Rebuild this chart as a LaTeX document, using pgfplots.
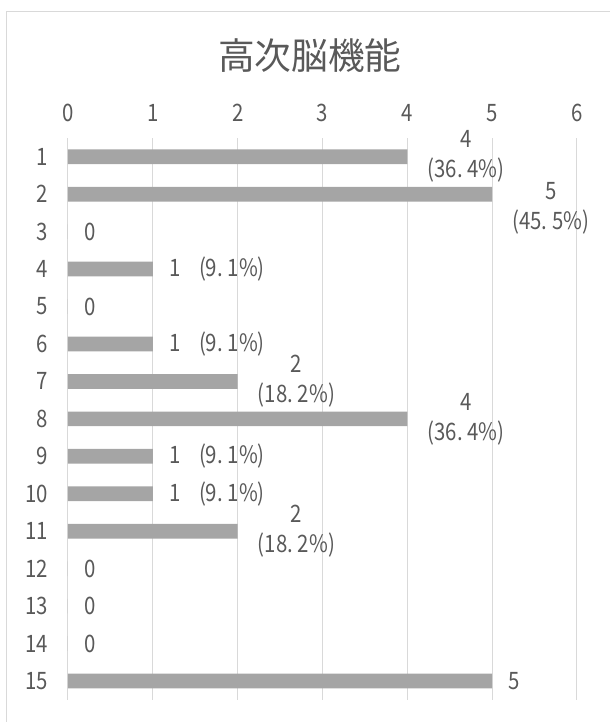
\documentclass[border=0pt]{standalone}
\usepackage{fontspec}
\setmainfont{Noto Sans CJK JP}
\newfontfamily\numfont[FakeStretch=0.85]{Noto Sans CJK JP}
\usepackage{pgfplots}
\pgfplotsset{compat=1.18}
\definecolor{txt}{HTML}{595959}
\definecolor{barc}{HTML}{A5A5A5}
\definecolor{gridc}{HTML}{D9D9D9}
\newcommand\pd{.\hspace{0.2em}}
\newcommand\La{4\\(36\pd4\%)}
\newcommand\Lb{5\\(45\pd5\%)}
\newcommand\Lc{2\\(18\pd2\%)}
\newcommand\Ld{1\hspace{14pt}(9\pd1\%)}
\newcommand\Le{0}
\newcommand\Lf{5}
\begin{document}
\begin{tikzpicture}
\useasboundingbox (-51pt,-438pt) rectangle (406.5pt,103.5pt);
\draw[gridc, line width=0.75pt] (-45.75pt,-445pt) -- (-45.75pt,95.25pt) -- (415pt,95.25pt);
\node[text=txt, font=\fontsize{27.5}{30}\selectfont] at (181.5pt,61.5pt) {高次脳機能};
\begin{axis}[
  at={(0pt,0pt)}, anchor=north west,
  scale only axis, width=381.75pt, height=421.3pt,
  xmin=0, xmax=6, ymin=0.5, ymax=15.5,
  xtick={0,1,2,3,4,5,6}, ytick={1,2,3,4,5,6,7,8,9,10,11,12,13,14,15},
  yticklabels={15,14,13,12,11,10,9,8,7,6,5,4,3,2,1},
  xticklabel pos=right,
  xmajorgrids, major grid style={gridc, line width=0.75pt},
  axis line style={draw=none},
  major tick length=0pt,
  tick label style={text=txt, font=\numfont\fontsize{18}{21}\selectfont},
  /pgf/number format/assume math mode=true,
  xticklabel style={anchor=base, yshift=12.75pt},
  yticklabel style={anchor=east, inner sep=0pt, xshift=-15pt},
  clip=false,
]
\addplot[xbar, fill=barc, draw=none, bar width=11pt] coordinates {
  (4,15) (5,14) (0,13) (1,12) (0,11) (1,10) (2,9) (4,8) (1,7) (1,6) (2,5) (0,4) (0,3) (0,2) (5,1)
};
% two-line labels
\addplot[draw=none, mark=none, point meta=explicit symbolic,
  nodes near coords={\csname L\pgfplotspointmeta\endcsname},
  every node near coord/.append style={anchor=west, align=center, inner sep=0pt, xshift=15pt,
    text=txt, font=\numfont\fontsize{18}{22.5}\selectfont}]
  coordinates {(4,15)[a] (2,9)[c] (4,8)[a] (2,5)[c]};
% shifted label (row 2)
\addplot[draw=none, mark=none, point meta=explicit symbolic,
  nodes near coords={\csname L\pgfplotspointmeta\endcsname},
  every node near coord/.append style={anchor=west, align=center, inner sep=0pt, xshift=15pt, yshift=-10.5pt,
    text=txt, font=\numfont\fontsize{18}{22.5}\selectfont}]
  coordinates {(5,14)[b]};
% single-line labels
\addplot[draw=none, mark=none, point meta=explicit symbolic,
  nodes near coords={\csname L\pgfplotspointmeta\endcsname},
  every node near coord/.append style={anchor=west, inner sep=0pt, xshift=12pt,
    text=txt, font=\numfont\fontsize{18}{21}\selectfont}]
  coordinates {(0,13)[e] (1,12)[d] (0,11)[e] (1,10)[d] (1,7)[d] (1,6)[d] (0,4)[e] (0,3)[e] (0,2)[e] (5,1)[f]};
\end{axis}
\end{tikzpicture}
\end{document}
